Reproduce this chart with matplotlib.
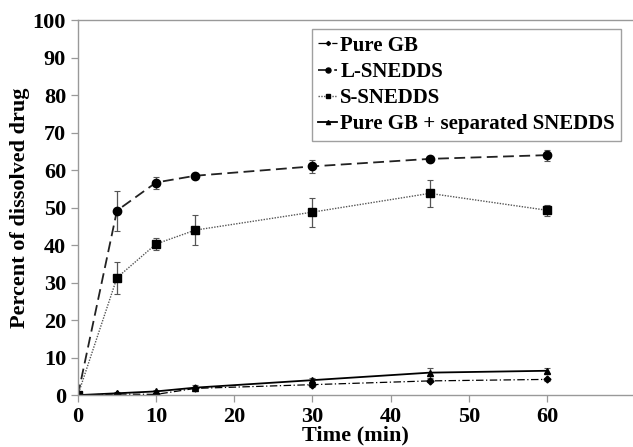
import matplotlib.pyplot as plt
from matplotlib.lines import Line2D

# Dissolution data
time = [0, 5, 10, 15, 30, 45, 60]

pure_gb = [0, 0.3, 0.2, 1.8, 2.8, 3.8, 4.2]
pure_gb_err = [0, 0.2, 0.2, 0.4, 0.5, 0.4, 0.3]

l_snedds = [0, 49.2, 56.7, 58.5, 61.0, 63.0, 64.0]
l_snedds_err = [0, 5.3, 1.6, 0.8, 1.8, 0.9, 1.5]

s_snedds = [0, 31.3, 40.3, 44.0, 48.8, 53.8, 49.3]
s_snedds_err = [0, 4.2, 1.6, 4.0, 3.9, 3.6, 1.5]

pure_gb_sep = [0, 0.5, 1.0, 2.0, 4.0, 6.0, 6.5]
pure_gb_sep_err = [0, 0.3, 0.3, 0.6, 0.5, 1.3, 0.7]

plt.rcParams['font.family'] = ['Liberation Serif', 'DejaVu Serif']
plt.rcParams['font.weight'] = 'bold'

fig = plt.figure(figsize=(6.33, 4.47), dpi=100)
ax = fig.add_axes([0.123, 0.116, 0.877, 0.839])

ekw = dict(ecolor='#555555', elinewidth=0.9, capsize=2, capthick=0.8)

series = [
    (pure_gb, pure_gb_err, 'Pure GB', dict(color='black', marker='D', markersize=3.5,
                                           linestyle=(0, (6, 2, 1, 2)), linewidth=0.9)),
    (l_snedds, l_snedds_err, 'L-SNEDDS', dict(color='#222222', marker='o', markersize=6,
                                              markerfacecolor='black', markeredgecolor='black',
                                              linestyle=(0, (6, 3)), linewidth=1.3)),
    (s_snedds, s_snedds_err, 'S-SNEDDS', dict(color='#555555', marker='s', markersize=5.5,
                                              markerfacecolor='black', markeredgecolor='black',
                                              linestyle=(0, (1, 1)), linewidth=1.0)),
    (pure_gb_sep, pure_gb_sep_err, 'Pure GB + separated SNEDDS',
     dict(color='black', marker='^', markersize=5, linestyle='-', linewidth=1.3)),
]

handles = []
for vals, err, name, style in series:
    ax.errorbar(time, vals, yerr=err, **style, **ekw)
    hs = dict(style)
    hs['markersize'] = style['markersize'] * 0.6
    handles.append(Line2D([], [], **hs))

ax.set_xlim(0, 71)
ax.set_ylim(0, 100)
ax.set_xticks(range(0, 61, 10))
ax.set_yticks(range(0, 101, 10))
ax.tick_params(axis='both', labelsize=16, colors='#999999', labelcolor='black',
               length=5, width=0.9, direction='out')

for side in ['left', 'bottom', 'top']:
    ax.spines[side].set_color('#999999')
    ax.spines[side].set_linewidth(1.0)
ax.spines['right'].set_visible(False)

ax.set_xlabel('Time (min)', fontsize=16, fontweight='bold', labelpad=-1)
ax.set_ylabel('Percent of dissolved drug', fontsize=16, fontweight='bold', labelpad=2)

leg = ax.legend(handles, [s[2] for s in series], loc='upper left',
                bbox_to_anchor=(0.422, 0.975), prop={'weight': 'bold', 'size': 15},
                frameon=True, fancybox=False, handlelength=0.9, handletextpad=0.15,
                borderpad=0.3, labelspacing=0.3, borderaxespad=0)
leg.get_frame().set_edgecolor('#888888')
leg.get_frame().set_linewidth(1.0)

fig.savefig('out.png', dpi=100)
